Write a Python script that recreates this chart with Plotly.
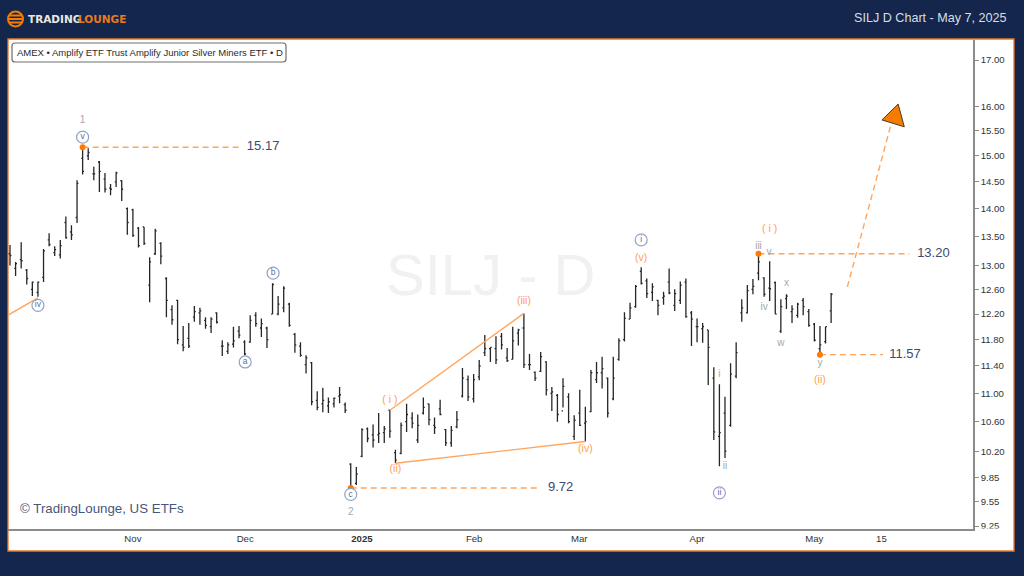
import plotly.graph_objects as go

# daily bars, oldest first
opens = [13.20, 12.95, 13.10, 12.92, 12.60, 12.55, 12.80, 13.44, 13.22, 13.18, 13.75, 13.58, 13.84, 14.95, 15.00, 14.65,
         14.88, 14.55, 14.38, 14.50, 14.52, 14.00, 13.98, 13.65, 13.67, 12.67, 13.20, 13.38, 12.78, 12.27, 12.42, 11.72,
         11.82, 12.15, 12.22, 12.10, 12.00, 12.22, 11.70, 11.62, 11.73, 11.93, 11.76, 11.76, 12.18, 11.98, 11.98, 12.20,
         12.20, 12.30, 12.36, 11.88, 11.70, 11.42, 11.45, 10.90, 10.85, 10.82, 10.85, 10.96, 10.84, 10.03, 9.78, 10.13,
         10.50, 10.42, 10.42, 10.45, 10.76, 10.18, 10.17, 10.60, 10.65, 10.35, 10.72, 10.85, 10.55, 10.78, 10.49, 10.31,
         10.53, 10.96, 11.20, 10.92, 11.24, 11.60, 11.66, 11.66, 11.85, 11.52, 11.50, 11.90, 11.98, 11.42, 11.31, 11.32,
         11.46, 11.00, 10.97, 10.75, 10.95, 10.40, 10.72, 10.58, 10.74, 11.20, 11.30, 11.22, 10.92, 11.50, 11.80, 12.12,
         12.32, 12.90, 12.74, 12.55, 12.42, 12.46, 12.72, 12.34, 12.42, 12.72, 12.22, 12.00, 11.97, 11.95, 11.22, 10.40,
         10.72, 10.55, 11.25, 12.22, 12.22, 12.60, 12.87, 12.79, 12.62, 12.71, 11.93, 12.45, 12.24, 12.18, 12.42, 12.24,
         12.04, 11.66, 11.77, 12.25]
highs = [13.35, 13.06, 13.40, 12.94, 12.73, 12.73, 13.28, 13.56, 13.33, 13.44, 13.86, 13.70, 14.53, 15.17, 15.15, 14.79,
         14.90, 14.67, 14.46, 14.69, 14.53, 14.02, 14.00, 13.67, 13.67, 13.14, 13.64, 13.40, 12.80, 12.34, 12.43, 12.01,
         12.06, 12.33, 12.30, 12.15, 12.15, 12.23, 11.79, 11.76, 12.00, 12.01, 11.79, 12.18, 12.23, 12.13, 12.00, 12.70,
         12.49, 12.65, 12.38, 11.90, 11.76, 11.56, 11.46, 11.03, 11.08, 10.94, 10.94, 11.09, 10.87, 10.04, 9.99, 10.51,
         10.52, 10.56, 10.72, 10.54, 10.76, 10.22, 10.59, 10.85, 10.73, 10.70, 10.94, 10.85, 10.66, 10.91, 10.50, 10.54,
         10.75, 11.37, 11.26, 11.28, 11.49, 11.87, 11.68, 11.85, 11.90, 11.67, 12.00, 11.97, 12.21, 11.58, 11.32, 11.61,
         11.47, 11.09, 10.99, 11.22, 11.00, 10.69, 11.05, 10.81, 11.34, 11.46, 11.54, 11.23, 11.54, 11.82, 12.23, 12.38,
         12.67, 12.97, 12.78, 12.70, 12.43, 12.56, 12.95, 12.60, 12.73, 12.78, 12.25, 12.13, 12.06, 11.95, 11.38, 11.13,
         10.95, 11.44, 11.76, 12.44, 12.67, 12.77, 13.20, 12.80, 13.07, 12.73, 12.44, 12.52, 12.34, 12.38, 12.46, 12.28,
         12.06, 12.01, 12.00, 12.54]
lows = [13.00, 12.82, 12.95, 12.68, 12.49, 12.48, 12.72, 13.33, 13.16, 13.12, 13.46, 13.44, 13.74, 14.64, 14.92, 14.53,
        14.31, 14.30, 14.25, 14.40, 14.14, 13.53, 13.49, 13.31, 13.35, 12.39, 13.18, 13.02, 12.15, 12.03, 11.73, 11.62,
        11.67, 12.08, 12.03, 11.97, 11.90, 12.05, 11.55, 11.58, 11.68, 11.82, 11.56, 11.75, 12.00, 11.84, 11.67, 12.20,
        12.18, 12.23, 12.00, 11.60, 11.54, 11.29, 10.83, 10.76, 10.73, 10.72, 10.80, 10.86, 10.72, 9.72, 9.76, 10.12,
        10.32, 10.25, 10.31, 10.31, 10.38, 10.04, 10.16, 10.46, 10.51, 10.31, 10.70, 10.55, 10.43, 10.69, 10.27, 10.26,
        10.51, 10.94, 10.89, 10.87, 11.19, 11.55, 11.46, 11.43, 11.65, 11.46, 11.50, 11.71, 11.37, 11.34, 11.18, 11.31,
        10.97, 10.75, 10.60, 10.80, 10.58, 10.35, 10.54, 10.33, 10.73, 11.15, 11.07, 10.66, 10.90, 11.48, 11.77, 12.12,
        12.30, 12.68, 12.46, 12.41, 12.18, 12.35, 12.52, 12.25, 12.36, 12.14, 11.70, 11.76, 11.75, 11.12, 10.35, 10.00,
        10.11, 10.53, 11.22, 12.08, 12.21, 12.52, 12.75, 12.48, 12.41, 12.20, 11.90, 12.28, 12.06, 12.14, 12.18, 12.00,
        11.77, 11.57, 11.74, 12.06]
closes = [13.17, 13.03, 13.08, 12.78, 12.72, 12.72, 13.25, 13.36, 13.27, 13.34, 13.48, 13.53, 14.47, 14.70, 15.07, 14.65,
          14.70, 14.36, 14.36, 14.67, 14.36, 13.75, 13.52, 13.34, 13.38, 13.06, 13.60, 13.16, 12.42, 12.11, 11.80, 11.68,
          11.70, 12.24, 12.25, 12.02, 12.12, 12.07, 11.70, 11.72, 11.78, 11.87, 11.58, 12.10, 12.05, 12.05, 11.80, 12.68,
          12.36, 12.62, 12.02, 11.72, 11.56, 11.52, 10.88, 10.80, 10.90, 10.88, 10.93, 10.98, 10.76, 9.74, 9.90, 10.49,
          10.37, 10.35, 10.44, 10.50, 10.47, 10.08, 10.55, 10.70, 10.58, 10.55, 10.80, 10.63, 10.52, 10.70, 10.31, 10.48,
          10.63, 11.22, 10.95, 11.20, 11.40, 11.66, 11.68, 11.49, 11.72, 11.48, 11.78, 11.95, 11.42, 11.42, 11.22, 11.54,
          11.05, 11.02, 10.70, 11.10, 10.60, 10.62, 10.55, 10.60, 11.30, 11.30, 11.36, 10.72, 11.22, 11.78, 12.13, 12.30,
          12.65, 12.70, 12.53, 12.64, 12.34, 12.49, 12.54, 12.53, 12.67, 12.16, 12.12, 12.00, 12.00, 11.68, 10.46, 10.45,
          10.20, 11.28, 11.60, 12.30, 12.58, 12.65, 13.06, 12.52, 12.61, 12.20, 12.32, 12.49, 12.28, 12.36, 12.32, 12.02,
          11.79, 11.72, 12.00, 12.52]
bar_idx = list(range(len(opens)))

# axis
y_ticks = [17.0, 16.0, 15.5, 15.0, 14.5, 14.0, 13.5, 13.0, 12.6, 12.2, 11.8, 11.4, 11.0, 10.6, 10.2, 9.85, 9.55, 9.25]
x_tick_idx = [22, 42.1, 63, 83.1, 101.9, 123, 144, 156]
x_tick_txt = ['Nov', 'Dec', '<b>2025</b>', 'Feb', 'Mar', 'Apr', 'May', '15']

# levels: start bar, end bar, price
level_start = [13, 134, 145, 61]
level_end = [41, 161, 156.3, 95]
level_price = [15.17, 13.20, 11.57, 9.72]
level_label_x = [42.4, 162.4, 157.4, 96.3]

# wedge lines
wave_left_x, wave_left_y = [-1, 5], [12.15, 12.46]
wave_top_x, wave_top_y = [68, 92], [10.76, 12.21]
wave_low_x, wave_low_y = [69, 103], [10.04, 10.33]

# projection
proj_x, proj_y = [149.9, 157.7], [12.64, 15.62]
head_x, head_y = [159.0, 156.1, 160.1, 159.0], [16.05, 15.72, 15.58, 16.05]

# wave labels
circ_txt = ['v', 'iv', 'a', 'b', 'c', 'i', 'ii']
circ_x = [13, 5, 42.1, 47.1, 61, 113, 127]
circ_y = [15.37, 12.34, 11.46, 12.87, 9.64, 13.44, 9.66]

gray_txt = ['1', '2', 'iii', 'v', 'iv', 'x', 'w', 'y', 'i', 'ii']
gray_x = [13, 61, 134, 135.9, 135, 139, 138, 145, 127, 128]
gray_y = [15.70, 9.41, 13.33, 13.22, 12.31, 12.7, 11.74, 11.43, 11.27, 10.0]

orange_txt = ['( i )', '(ii)', '( i )', '(ii)', '(iii)', '(iv)', '(v)']
orange_x = [136, 145, 68, 69, 92, 103, 113]
orange_y = [13.63, 11.19, 10.9, 9.96, 12.4, 10.22, 13.12]

NAVY = '#14264b'
ORANGE = '#f57c00'
LINE = '#ffa55e'
FONT = 'Liberation Sans'

L, T, W, H = 8, 40, 965, 489


# pixel helpers for the page furniture
def px(x):
    return (x - L) / W


def py(y):
    return (T + H - y) / H


fig = go.Figure()

fig.add_trace(go.Ohlc(x=bar_idx, open=opens, high=highs, low=lows, close=closes,
                      increasing_line_color='#262626', decreasing_line_color='#262626',
                      line_width=1.3, tickwidth=0.25, hoverinfo='skip'))

for xs, ys in [(wave_left_x, wave_left_y), (wave_top_x, wave_top_y), (wave_low_x, wave_low_y)]:
    fig.add_trace(go.Scatter(x=xs, y=ys, mode='lines', line=dict(color=LINE, width=1.4), hoverinfo='skip'))

for a, b, p in zip(level_start, level_end, level_price):
    fig.add_trace(go.Scatter(x=[a, b], y=[p, p], mode='lines', hoverinfo='skip',
                             line=dict(color=LINE, width=1.4, dash='6px,4px')))

fig.add_trace(go.Scatter(x=proj_x, y=proj_y, mode='lines', hoverinfo='skip',
                         line=dict(color=LINE, width=1.4, dash='6px,4px')))
fig.add_trace(go.Scatter(x=head_x, y=head_y, mode='lines', fill='toself', fillcolor=ORANGE,
                         line=dict(color='#4a3a2a', width=1), hoverinfo='skip'))

fig.add_trace(go.Scatter(x=level_start, y=level_price, mode='markers', hoverinfo='skip',
                         marker=dict(color='#ff7a00', size=6)))

fig.add_trace(go.Scatter(x=level_label_x, y=level_price, mode='text', hoverinfo='skip',
                         text=['%.2f' % p for p in level_price], textposition='middle right',
                         textfont=dict(family=FONT, size=13, color='#3c4a72')))

fig.add_trace(go.Scatter(x=circ_x, y=circ_y, mode='markers+text', text=circ_txt, hoverinfo='skip',
                         textposition='middle center',
                         textfont=dict(family=FONT, size=8.5, color='#5d6d9a'),
                         marker=dict(color='white', size=12, line=dict(color='#93a2c4', width=1.2))))
fig.add_trace(go.Scatter(x=gray_x, y=gray_y, mode='text', text=gray_txt, hoverinfo='skip',
                         textposition='middle center',
                         textfont=dict(family=FONT, size=10, color='#a3a7ae')))
fig.add_trace(go.Scatter(x=orange_x, y=orange_y, mode='text', text=orange_txt, hoverinfo='skip',
                         textposition='middle center',
                         textfont=dict(family=FONT, size=10.5, color='#ff9e55')))

shapes = [
    # white panel
    dict(type='rect', xref='paper', yref='paper', x0=px(8), x1=px(1014), y0=py(551), y1=py(39),
         fillcolor='white', line=dict(color='#e8782a', width=1.3), layer='below'),
    # clips the lowest price label on the axis edge
    dict(type='rect', xref='paper', yref='paper', x0=px(975), x1=px(1013), y0=py(535), y1=py(528.5),
         fillcolor='white', line_width=0, layer='above'),
    # symbol box
    dict(type='path', xref='paper', yref='paper', layer='above',
         path='M %f,%f L %f,%f Q %f,%f %f,%f L %f,%f Q %f,%f %f,%f L %f,%f Q %f,%f %f,%f L %f,%f Q %f,%f %f,%f Z' % (
             px(15), py(43), px(283), py(43), px(286), py(43), px(286), py(46),
             px(286), py(59), px(286), py(62), px(283), py(62),
             px(15), py(62), px(12), py(62), px(12), py(59),
             px(12), py(46), px(12), py(43), px(15), py(43)),
         fillcolor='white', line=dict(color='#6e6e6e', width=1.2)),
    # logo
    dict(type='circle', xref='paper', yref='paper', x0=px(8), x1=px(23), y0=py(26.5), y1=py(11.5),
         fillcolor=NAVY, line=dict(color='#f57c00', width=2), layer='above'),
]
for yy in [15.5, 19, 22.5]:
    shapes.append(dict(type='line', xref='paper', yref='paper', x0=px(9), x1=px(22), y0=py(yy), y1=py(yy),
                       line=dict(color='#f57c00', width=2), layer='above'))

annos = [
    dict(text='SILJ - D', x=px(491), y=py(274), font=dict(family=FONT, size=58, color='#f1f1f1')),
    dict(text='AMEX \u2022 Amplify ETF Trust Amplify Junior Silver Miners ETF \u2022 D', x=px(16), y=py(52.5),
         xanchor='left', font=dict(family=FONT, size=9.5, color='#2a2a2a')),
    dict(text='\u00a9 TradingLounge, US ETFs', x=px(19), y=py(508), xanchor='left',
         font=dict(family=FONT, size=13.3, color='#47567c')),
    dict(text='SILJ D Chart - May 7, 2025', x=px(1008), y=py(18), xanchor='right',
         font=dict(family=FONT, size=12.6, color='#d8dde8')),
    dict(text='<b>TRADING</b>', x=px(27), y=py(19), xanchor='left',
         font=dict(family='DejaVu Sans', size=10.5, color='#e8e8e8')),
    dict(text='<b>LOUNGE</b>', x=px(77), y=py(19), xanchor='left',
         font=dict(family='DejaVu Sans', size=10.5, color='#e87a1e')),
]
for a in annos:
    a.update(xref='paper', yref='paper', showarrow=False, borderpad=0, yanchor='middle')

fig.update_layout(width=1024, height=576, autosize=False, showlegend=False,
                  paper_bgcolor=NAVY, plot_bgcolor='white',
                  margin=dict(l=L, r=1024 - L - W, t=T, b=576 - T - H),
                  shapes=shapes, annotations=annos)

fig.update_xaxes(range=[-0.36, 172.4], rangeslider_visible=False, showgrid=False, zeroline=False,
                 tickmode='array', tickvals=x_tick_idx, ticktext=x_tick_txt, ticks='',
                 tickfont=dict(family=FONT, size=9.6, color='#333333'),
                 showline=True, linecolor='#8c8c8c', linewidth=1.5)
fig.update_yaxes(type='log', range=[0.96445, 1.24180], side='right', showgrid=False, zeroline=False,
                 tickmode='array', tickvals=y_ticks, ticktext=['%.2f' % v for v in y_ticks],
                 ticks='outside', ticklen=4, tickcolor='#8c8c8c', tickwidth=1,
                 tickfont=dict(family=FONT, size=9.6, color='#333333'),
                 showline=True, linecolor='#8c8c8c', linewidth=1.5)

# page body has a default margin that would push the fixed-size figure off the window
fig.write_html("out.html", config={'displayModeBar': False}, post_script="document.body.style.margin='0';")
